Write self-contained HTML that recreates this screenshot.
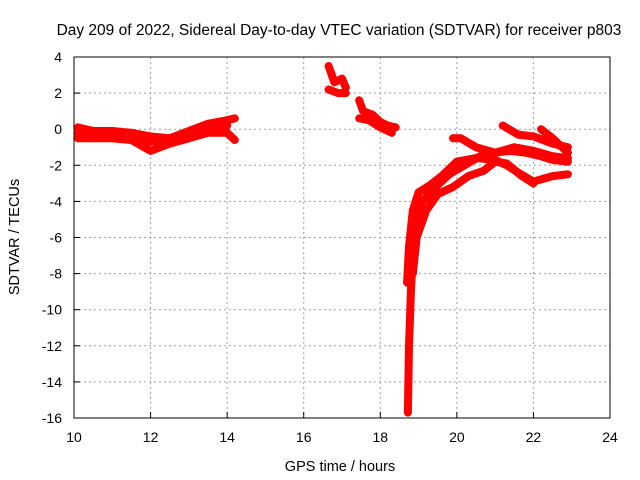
<!DOCTYPE html>
<html><head><meta charset="utf-8"><style>
body{margin:0;background:#fff}
svg{display:block;font-family:"Liberation Sans",sans-serif}
</style></head><body>
<svg id="chart" width="640" height="480">
<text x="339" y="35" font-size="15.5" text-anchor="middle">Day 209 of 2022, Sidereal Day-to-day VTEC variation (SDTVAR) for receiver p803</text>
<text x="340" y="471" font-size="14.5" text-anchor="middle">GPS time / hours</text>
<text x="19" y="237" font-size="14.5" text-anchor="middle" transform="rotate(-90 19 237)">SDTVAR / TECUs</text>
<g id="grid"></g><g id="marks"></g>
<rect x="74" y="57" width="536" height="361" fill="none" stroke="#000"/>
</svg>
<script>
const xTicks=[10,12,14,16,18,20,22,24];
const yTicks=[4,2,0,-2,-4,-6,-8,-10,-12,-14,-16];
const trackA1=[[10.1,0.1],[10.5,-0.1],[11,-0.1],[11.5,-0.2],[12,-0.4],[12.5,-0.5],[13,-0.1],[13.5,0.3],[14,0.5],[14.2,0.6]];
const trackA2=[[10.1,-0.5],[10.5,-0.5],[11,-0.5],[11.5,-0.6],[12,-1.2],[12.5,-0.8],[13,-0.5],[13.5,-0.2],[14,-0.2],[14.2,-0.6]];
const trackA3=[[10.1,-0.2],[11,-0.3],[12,-0.7],[13,-0.3],[14,0.2]];
const trackB1=[[16.65,3.5],[16.8,2.6],[17,2.8],[17.1,2.3]];
const trackB2=[[16.65,2.2],[16.9,2.0],[17.1,2.0]];
const trackC1=[[17.45,1.6],[17.55,1.0],[17.8,0.8],[18,0.4],[18.2,0.2],[18.4,0.1]];
const trackC2=[[17.45,0.6],[17.7,0.5],[18,0.1],[18.3,-0.2]];
const trackD=[[18.72,-15.7],[18.75,-12],[18.8,-9],[18.85,-7],[18.95,-5],[19.1,-4],[19.4,-3.3],[19.8,-2.5],[20.2,-2],[20.6,-1.5],[21,-1.3],[21.4,-1.2],[21.8,-1.3],[22.2,-1.5],[22.5,-1.7],[22.9,-1.8]];
const trackE=[[18.7,-8.5],[18.75,-6.5],[18.85,-4.5],[19,-3.5],[19.3,-3.1],[19.6,-2.6],[20,-1.8],[20.5,-1.6],[21,-1.7],[21.3,-2.0],[21.6,-2.4],[22,-2.9],[22.5,-2.6],[22.9,-2.5]];
const trackF=[[18.85,-8],[18.95,-6],[19.2,-4.5],[19.5,-3.6],[19.9,-3.2],[20.3,-2.6],[20.7,-2.3],[21,-1.8],[21.3,-1.9],[21.7,-2.6],[22,-3.0]];
const trackG=[[19.9,-0.5],[20.1,-0.5],[20.5,-1.0],[21,-1.3],[21.5,-1.0],[22,-1.2],[22.5,-1.5],[22.9,-1.6]];
const trackH=[[21.2,0.2],[21.6,-0.3],[22,-0.4],[22.5,-0.8],[22.9,-1.0]];
const trackI=[[22.2,0.0],[22.5,-0.5],[22.9,-1.3]];
const tracks=[trackA1,trackA2,trackA3,trackB1,trackB2,trackC1,trackC2,trackD,trackE,trackF,trackG,trackH,trackI];
const X=v=>74+(v-10)*536/14, Y=v=>57+(4-v)*361/20;
const NS="http://www.w3.org/2000/svg";
const svg=document.getElementById('chart'),grid=document.getElementById('grid'),marks=document.getElementById('marks');
function mk(t,a,p){const e=document.createElementNS(NS,t);for(const k in a)e.setAttribute(k,a[k]);p.appendChild(e);return e;}
xTicks.forEach(t=>{
 if(t>10&&t<24){const l=mk('line',{x1:X(t),x2:X(t),y1:57,y2:418,stroke:'#a0a0a0','stroke-dasharray':'2,3'},grid);
 
 }
 const tk=mk('line',{x1:X(t),x2:X(t),y1:418,y2:412,stroke:'#000'},grid);
 
 
 const tx=mk('text',{x:X(t),y:442,'font-size':14,'text-anchor':'middle'},svg);tx.textContent=t;
 
 
});
yTicks.forEach(t=>{
 if(t<4&&t>-16){const l=mk('line',{x1:74,x2:610,y1:Y(t),y2:Y(t),stroke:'#a0a0a0','stroke-dasharray':'2,3'},grid);
 
 }
 const tk=mk('line',{x1:74,x2:80,y1:Y(t),y2:Y(t),stroke:'#000'},grid);
 
 
 const tx=mk('text',{x:62,y:Y(t)+5,'font-size':14,'text-anchor':'end'},svg);tx.textContent=t;
 
 
});
tracks.forEach((tr,i)=>{
 const pl=mk('polyline',{points:tr.map(p=>X(p[0])+','+Y(p[1])).join(' '),fill:'none',stroke:'#f00','stroke-width':8,'stroke-linejoin':'round','stroke-linecap':'round'},marks);
 
 
 tr.forEach(p=>{
  const m=mk('path',{d:`M${X(p[0])-4},${Y(p[1])}h8M${X(p[0])},${Y(p[1])-4}v8`,stroke:'#f00','stroke-width':1},marks);
  
  
 });
});
</script>
</body></html>
